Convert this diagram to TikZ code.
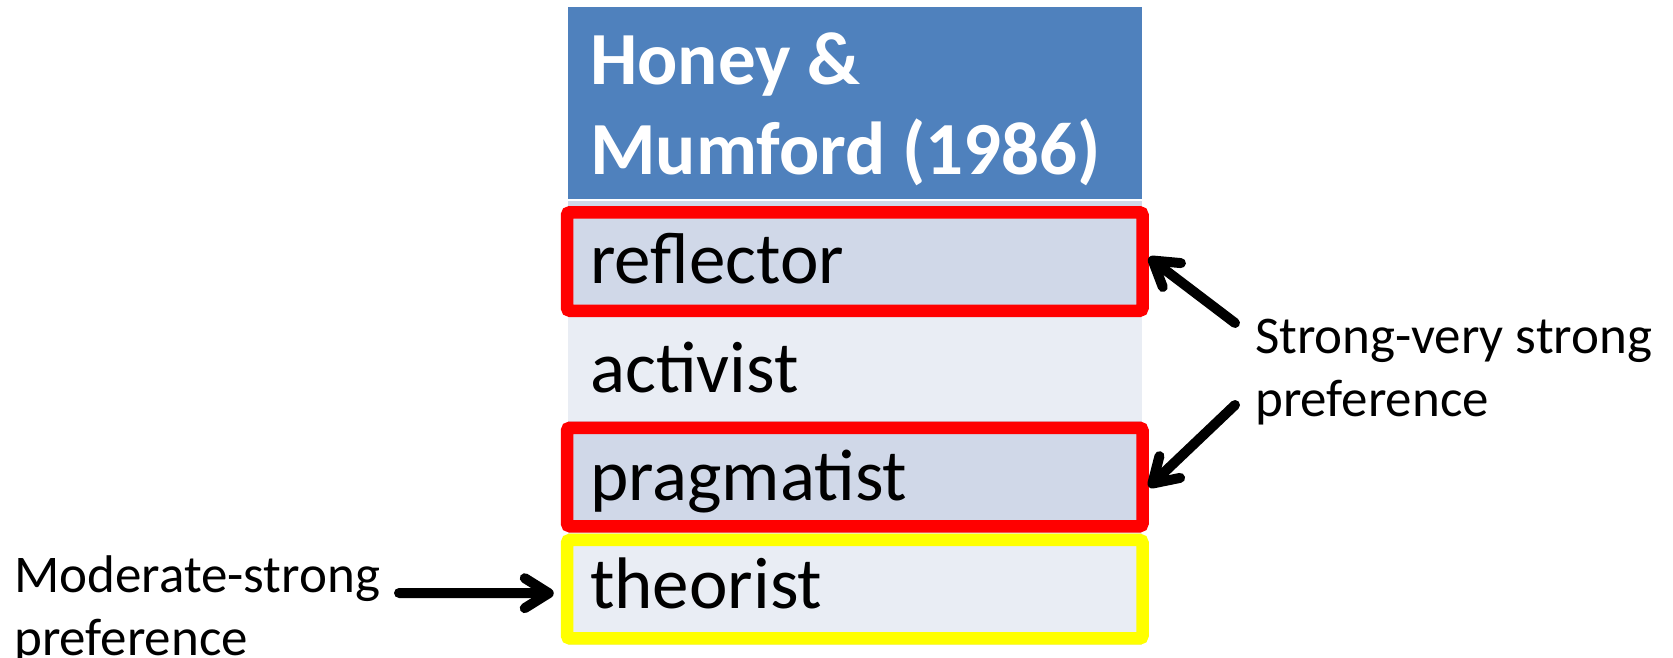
\documentclass[tikz,border=0pt]{standalone}
\usepackage{fontspec}
\setmainfont{Carlito}
\usepackage{tikz}
\usetikzlibrary{positioning}
\usetikzlibrary{arrows.meta,shadows}
\definecolor{hmblue}{RGB}{79,129,189}
\definecolor{rowdark}{RGB}{208,216,232}
\definecolor{rowlight}{RGB}{233,237,244}
\definecolor{boxred}{RGB}{255,0,0}
\definecolor{boxyellow}{RGB}{255,255,0}
\tikzset{% styles for the table and the arrows
        celltext/.style={anchor=base west, inner sep=0pt, font=\fontsize{73}{87}\selectfont},
        sidetext/.style={anchor=base west, inner sep=0pt, align=left, font=\fontsize{53}{63}\selectfont},
        hibox/.style={draw=#1, line width=12.5pt, rounded corners=3pt, minimum width=575.5pt,
                minimum height=98.5pt, inner sep=0pt,
                drop shadow={opacity=0.35, shadow xshift=2pt, shadow yshift=-4pt}},
        pointer/.style={line width=10pt, line cap=round, -{Straight Barb[length=24pt,width=30pt,round]}}
        }

\begin{document}
\begin{tikzpicture}[x=1pt,y=-1pt]
\useasboundingbox (0,0) rectangle (1673,658);
% table cells
\fill[hmblue] (568,7) rectangle (1142,199);
\fill[rowdark] (568,201) rectangle (1142,314);
\fill[rowlight] (568,314) rectangle (1142,421);
\fill[rowdark] (568,421) rectangle (1142,532);
\fill[rowlight] (568,532) rectangle (1142,645);

% highlighted rows
\node[hibox=boxred, fill=rowdark] (reflbox) at (854.75,261.5) {};
\node[hibox=boxred, fill=rowdark] (pragbox) at (854.75,477) {};
\node[hibox=boxyellow, fill=rowlight] (theobox) at (854.75,589.2) {};

% base anchor of a two-line node sits on its last line
\node[anchor=base west, inner sep=0pt, align=left, text=white,
      font=\fontsize{75}{89}\selectfont\bfseries] (head) at (590,174) {Honey \&\\Mumford (1986)};
\node[celltext] (refl) at (590,283) {reflector};
\node[celltext] (acti) at (590,392) {activist};
\node[celltext] (prag) at (590,500) {pragmatist};
\node[celltext] (theo) at (590,608) {theorist};

\node[sidetext] (strong) at (1255,416) {Strong-very strong\\preference};
\node[sidetext] (moder) at (14,655) {Moderate-strong\\preference};

\coordinate (sv1) at (1235,323);
\coordinate (sv2) at (1235,405);
\coordinate (ms) at (399,593);
\draw[pointer] (sv1) -- ([yshift=4pt]reflbox.east);
\draw[pointer] (sv2) -- ([yshift=-10pt]pragbox.east);
\draw[pointer] (ms) -- ([xshift=-7pt,yshift=-4pt]theobox.west);
\end{tikzpicture}
\end{document}
